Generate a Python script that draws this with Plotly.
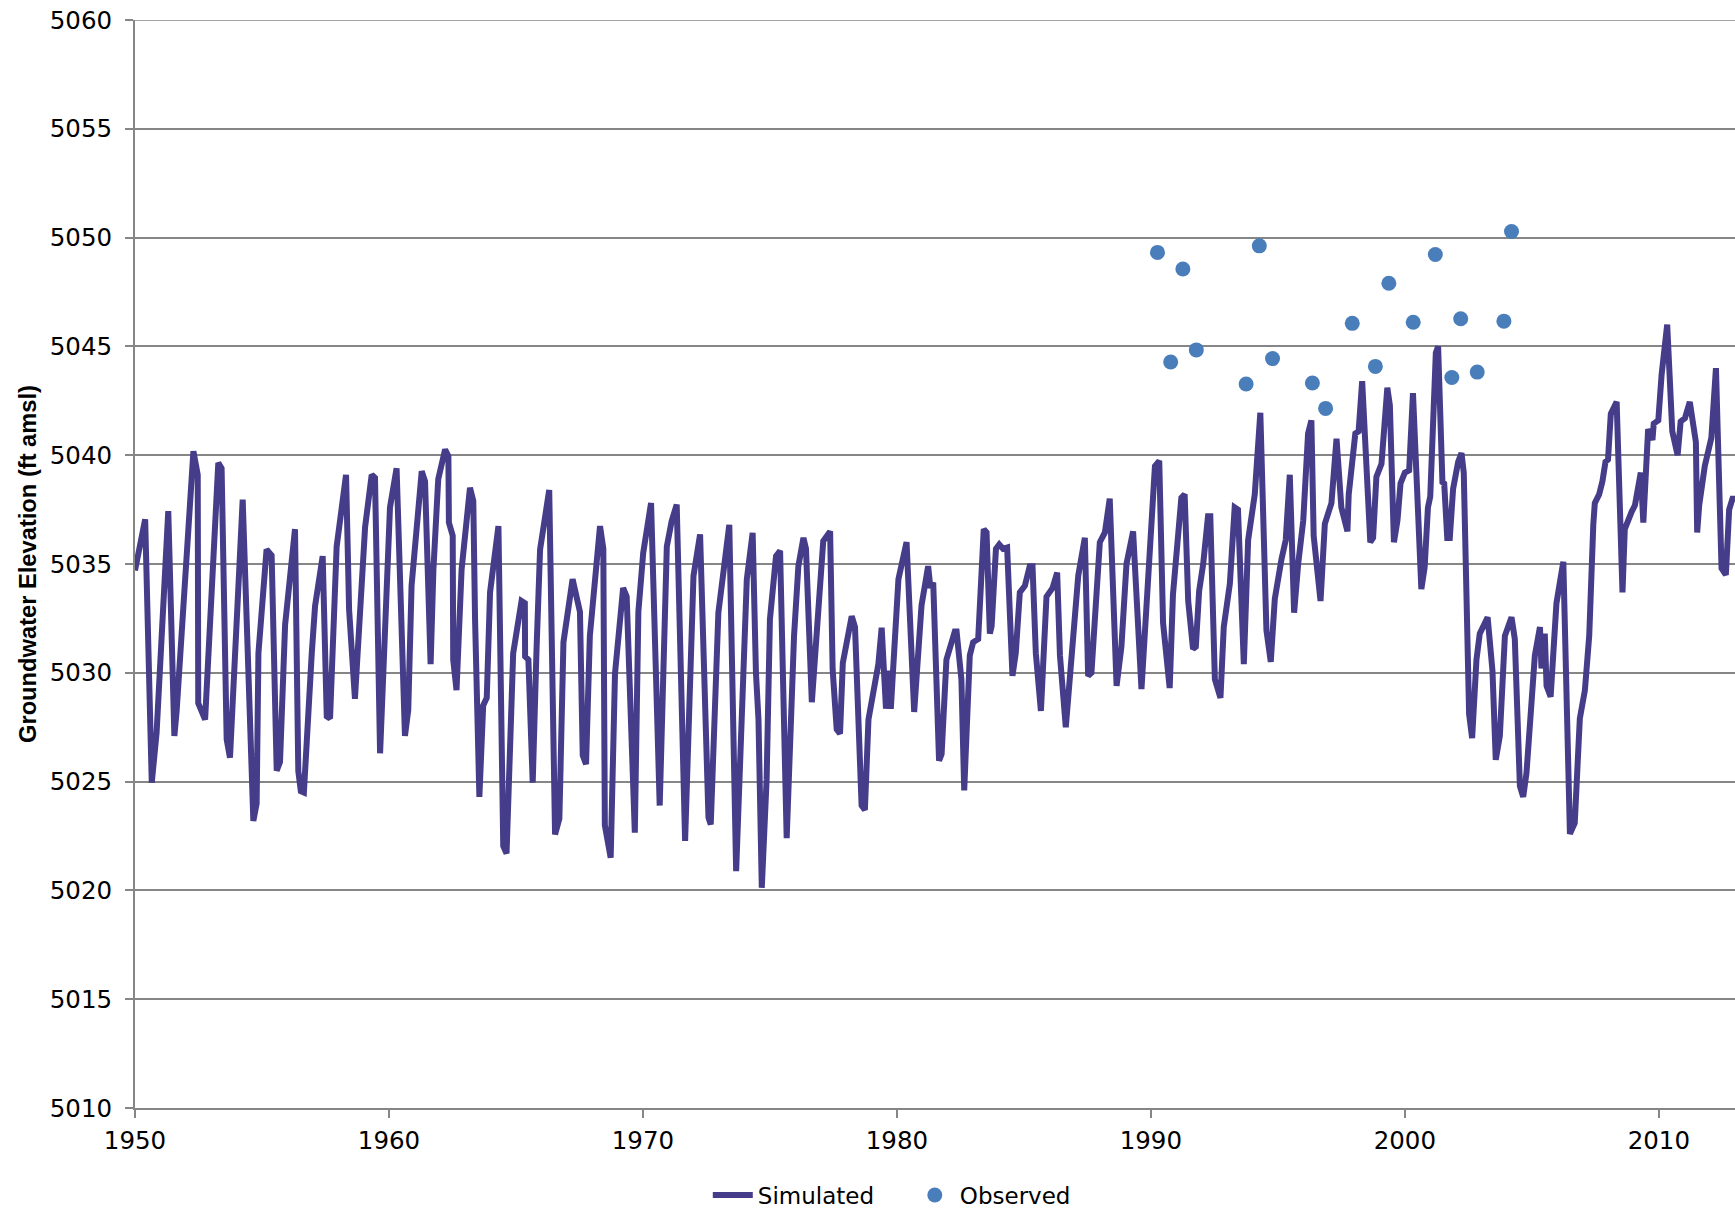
import plotly.graph_objects as go

# simulated groundwater elevation (ft amsl), vertices
sim_year = [
    1950.00, 1950.40, 1950.66, 1950.85, 1951.31, 1951.55, 1951.64, 1952.30, 1952.47, 1952.49,
    1952.76, 1953.28, 1953.41, 1953.61, 1953.74, 1954.24, 1954.66, 1954.79, 1954.86, 1955.18,
    1955.38, 1955.58, 1955.71, 1955.91, 1956.30, 1956.43, 1956.53, 1956.65, 1956.96, 1957.09,
    1957.39, 1957.55, 1957.68, 1957.94, 1958.31, 1958.43, 1958.66, 1959.06, 1959.32, 1959.45,
    1959.65, 1959.91, 1960.04, 1960.30, 1960.63, 1960.76, 1960.89, 1961.29, 1961.42, 1961.64,
    1961.75, 1961.94, 1962.21, 1962.34, 1962.36, 1962.51, 1962.53, 1962.66, 1962.86, 1963.19,
    1963.32, 1963.39, 1963.56, 1963.71, 1963.85, 1963.98, 1964.31, 1964.50, 1964.63, 1964.89,
    1965.22, 1965.35, 1965.36, 1965.49, 1965.66, 1965.81, 1965.95, 1966.31, 1966.54, 1966.71,
    1966.87, 1967.23, 1967.36, 1967.52, 1967.63, 1967.76, 1967.91, 1968.31, 1968.44, 1968.50,
    1968.73, 1968.90, 1969.22, 1969.36, 1969.68, 1969.82, 1970.01, 1970.32, 1970.66, 1970.94,
    1971.13, 1971.33, 1971.66, 1971.99, 1972.25, 1972.58, 1972.67, 1972.97, 1973.40, 1973.67,
    1974.09, 1974.32, 1974.45, 1974.55, 1974.68, 1974.87, 1975.00, 1975.24, 1975.40, 1975.66,
    1975.95, 1976.12, 1976.32, 1976.42, 1976.65, 1977.10, 1977.37, 1977.47, 1977.63, 1977.76,
    1977.87, 1978.22, 1978.35, 1978.61, 1978.74, 1978.88, 1979.27, 1979.40, 1979.57, 1979.66,
    1979.76, 1980.06, 1980.38, 1980.68, 1980.97, 1981.23, 1981.32, 1981.43, 1981.66, 1981.76,
    1981.95, 1982.28, 1982.35, 1982.54, 1982.65, 1982.87, 1983.00, 1983.20, 1983.42, 1983.53,
    1983.66, 1983.73, 1983.90, 1984.03, 1984.18, 1984.34, 1984.55, 1984.68, 1984.84, 1985.04,
    1985.23, 1985.34, 1985.47, 1985.67, 1985.89, 1986.13, 1986.31, 1986.42, 1986.65, 1986.88,
    1987.14, 1987.40, 1987.53, 1987.66, 1987.99, 1988.19, 1988.38, 1988.65, 1988.84, 1989.04,
    1989.30, 1989.63, 1989.96, 1990.16, 1990.33, 1990.48, 1990.74, 1990.87, 1991.20, 1991.33,
    1991.47, 1991.66, 1991.77, 1991.90, 1992.06, 1992.25, 1992.34, 1992.52, 1992.74, 1992.87,
    1993.11, 1993.30, 1993.43, 1993.66, 1993.83, 1994.09, 1994.31, 1994.55, 1994.72, 1994.88,
    1995.14, 1995.31, 1995.47, 1995.64, 1995.80, 1996.00, 1996.19, 1996.32, 1996.41, 1996.68,
    1996.85, 1997.11, 1997.31, 1997.50, 1997.74, 1997.79, 1998.05, 1998.18, 1998.32, 1998.64,
    1998.75, 1998.88, 1999.08, 1999.31, 1999.41, 1999.57, 1999.71, 1999.83, 2000.00, 2000.17,
    2000.32, 2000.65, 2000.78, 2000.91, 2001.00, 2001.22, 2001.31, 2001.48, 2001.55, 2001.67,
    2001.77, 2001.90, 2002.10, 2002.23, 2002.32, 2002.53, 2002.65, 2002.82, 2002.95, 2003.13,
    2003.26, 2003.45, 2003.58, 2003.74, 2003.94, 2004.20, 2004.33, 2004.53, 2004.66, 2004.79,
    2005.12, 2005.32, 2005.38, 2005.51, 2005.58, 2005.74, 2005.84, 2005.97, 2006.24, 2006.50,
    2006.69, 2006.89, 2007.09, 2007.26, 2007.42, 2007.48, 2007.65, 2007.78, 2007.90, 2008.00,
    2008.11, 2008.34, 2008.57, 2008.66, 2008.93, 2009.06, 2009.29, 2009.39, 2009.58, 2009.75,
    2009.80, 2009.98, 2010.11, 2010.33, 2010.53, 2010.74, 2010.86, 2011.03, 2011.22, 2011.46,
    2011.51, 2011.59, 2011.81, 2011.98, 2012.07, 2012.25, 2012.47, 2012.64, 2012.77, 2012.90,
    2013.00,
]
sim_elev = [
    5034.7, 5037.05, 5024.95, 5027.24, 5037.43, 5027.1, 5028.24, 5040.18, 5039.1, 5028.6,
    5027.85, 5039.65, 5039.4, 5026.94, 5026.1, 5037.96, 5023.19, 5024.0, 5030.9, 5035.67,
    5035.4, 5025.5, 5025.9, 5032.2, 5036.6, 5025.48, 5024.56, 5024.5, 5030.9, 5033.07,
    5035.36, 5028.0, 5027.9, 5035.8, 5039.1, 5032.9, 5028.8, 5036.7, 5039.1, 5038.96,
    5026.3, 5033.8, 5037.6, 5039.4, 5027.1, 5028.3, 5034.0, 5039.26, 5038.8, 5030.4,
    5034.75, 5038.9, 5040.26, 5039.95, 5036.9, 5036.3, 5030.6, 5029.2, 5034.75, 5038.5,
    5037.9, 5032.45, 5024.3, 5028.5, 5028.85, 5033.7, 5036.74, 5022.04, 5021.7, 5030.88,
    5033.3, 5033.2, 5030.75, 5030.6, 5024.95, 5031.05, 5035.67, 5038.4, 5022.57, 5023.3,
    5031.4, 5034.3, 5033.5, 5032.8, 5026.2, 5025.8, 5031.7, 5036.74, 5035.7, 5023.0,
    5021.5, 5029.97, 5033.9, 5033.5, 5022.65, 5032.8, 5035.5, 5037.8, 5023.9, 5035.8,
    5036.97, 5037.73, 5022.27, 5034.45, 5036.36, 5023.35, 5023.03, 5032.76, 5036.8, 5020.88,
    5034.3, 5036.43, 5030.0, 5027.85, 5020.12, 5025.1, 5032.45, 5035.36, 5035.6, 5022.4,
    5031.7, 5034.9, 5036.2, 5035.7, 5028.65, 5036.05, 5036.5, 5030.15, 5027.4, 5027.2,
    5030.45, 5032.6, 5032.1, 5023.9, 5023.7, 5027.85, 5030.4, 5032.07, 5028.35, 5030.1,
    5028.35, 5034.3, 5036.0, 5028.2, 5033.1, 5034.9, 5033.9, 5034.15, 5025.96, 5026.26,
    5030.6, 5031.9, 5031.9, 5029.7, 5024.6, 5030.8, 5031.4, 5031.55, 5036.6, 5036.45,
    5031.8, 5032.15, 5035.7, 5035.9, 5035.7, 5035.76, 5029.86, 5030.9, 5033.7, 5034.0,
    5034.9, 5034.9, 5030.9, 5028.25, 5033.5, 5033.9, 5034.6, 5030.8, 5027.5, 5030.5,
    5034.46, 5036.2, 5029.86, 5030.0, 5036.0, 5036.45, 5038.0, 5029.4, 5031.2, 5035.0,
    5036.5, 5029.25, 5035.8, 5039.5, 5039.74, 5032.3, 5029.3, 5033.6, 5038.04, 5038.2,
    5033.3, 5031.1, 5031.2, 5033.76, 5035.0, 5037.2, 5037.2, 5029.7, 5028.85, 5032.1,
    5034.1, 5037.6, 5037.5, 5030.4, 5036.1, 5038.2, 5041.95, 5031.95, 5030.5, 5033.4,
    5035.2, 5036.1, 5039.1, 5032.76, 5035.0, 5037.0, 5041.0, 5041.6, 5036.3, 5033.3,
    5036.85, 5037.8, 5040.76, 5037.6, 5036.5, 5038.2, 5041.0, 5041.1, 5043.4, 5036.0,
    5036.2, 5039.0, 5039.6, 5043.1, 5042.3, 5036.0, 5037.0, 5038.7, 5039.2, 5039.3,
    5042.85, 5033.85, 5034.85, 5037.6, 5038.1, 5044.7, 5045.0, 5038.76, 5038.7, 5036.2,
    5036.2, 5038.45, 5039.7, 5040.1, 5039.2, 5028.1, 5027.0, 5030.6, 5031.8, 5032.3,
    5032.55, 5030.1, 5026.0, 5027.1, 5031.7, 5032.55, 5031.55, 5024.8, 5024.3, 5025.4,
    5030.8, 5032.1, 5030.2, 5031.8, 5029.4, 5028.9, 5031.4, 5033.2, 5035.1, 5022.6,
    5023.1, 5027.9, 5029.2, 5031.7, 5036.8, 5037.8, 5038.2, 5038.8, 5039.7, 5039.8,
    5041.9, 5042.45, 5033.7, 5036.6, 5037.4, 5037.7, 5039.2, 5036.9, 5041.2, 5040.7,
    5041.45, 5041.6, 5043.7, 5046.0, 5041.1, 5040.0, 5041.55, 5041.7, 5042.45, 5040.6,
    5036.45, 5037.7, 5039.5, 5040.36, 5040.8, 5044.0, 5034.8, 5034.5, 5037.5, 5038.0,
    5038.0,
]

# observed measurements
obs_year = [1990.26, 1990.78, 1991.26, 1991.79, 1993.75, 1994.27, 1994.79, 1996.36, 1996.88, 1997.93,
            1998.84, 1999.37, 2000.33, 2001.20, 2001.85, 2002.20, 2002.85, 2003.90, 2004.20]
obs_elev = [5049.32, 5044.28, 5048.56, 5044.84, 5043.27, 5049.62, 5044.44, 5043.32, 5042.15, 5046.06,
            5044.08, 5047.9, 5046.11, 5049.22, 5043.57, 5046.27, 5043.82, 5046.16, 5050.28]

y_min, y_max = 5010, 5060
grey = "#868686"
tick_font = dict(family="DejaVu Sans", size=24.5, color="black")

fig = go.Figure()
fig.add_trace(go.Scatter(x=sim_year, y=sim_elev, mode="lines", name="Simulated",
                         line=dict(color="#463D8A", width=6)))
fig.add_trace(go.Scatter(x=obs_year, y=obs_elev, mode="markers", name="Observed",
                         marker=dict(color="#4A7EBB", size=15)))

# plotly leaves out the grid line at the top of the range
fig.add_hline(y=y_max, line=dict(color=grey, width=1.5), layer="below")

fig.update_layout(
    width=1735, height=1212,
    margin=dict(l=135, r=0, t=20, b=104),
    plot_bgcolor="white", paper_bgcolor="white",
    showlegend=True,
    legend=dict(orientation="h", x=0.358, xanchor="left",
                yref="container", y=0.014, yanchor="middle",
                font=dict(family="DejaVu Sans", size=23, color="black"),
                itemwidth=40, entrywidth=147),
)
fig.update_xaxes(range=[1950, 2013], tick0=1950, dtick=10, showgrid=False,
                 showline=True, linecolor=grey, linewidth=2, zeroline=False,
                 ticks="outside", ticklen=8, tickwidth=2, tickcolor=grey,
                 tickfont=tick_font, ticklabelstandoff=2, automargin=False)
fig.update_yaxes(range=[y_min, y_max], dtick=5, tickformat="d",
                 showgrid=True, gridcolor=grey, gridwidth=1.5,
                 showline=True, linecolor=grey, linewidth=2, zeroline=False,
                 ticks="outside", ticklen=8, tickwidth=2, tickcolor=grey,
                 tickfont=tick_font, ticklabelstandoff=8, automargin=False,
                 ticklabeloverflow="allow",
                 title=dict(text="<b>Groundwater Elevation (ft amsl)</b>",
                            font=dict(family="Liberation Sans", size=23.7, color="black"),
                            standoff=6))

# drop the default 8px body margin so the figure sits flush in the window
fig.write_html("out.html", config={"displayModeBar": False},
               post_script="document.body.style.margin = '0px';")
